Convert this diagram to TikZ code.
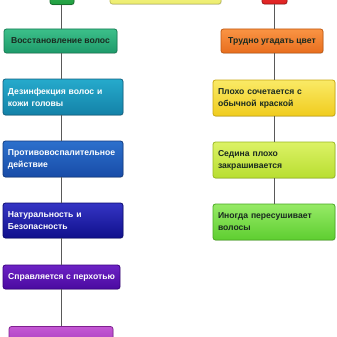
\documentclass[tikz,border=0pt]{standalone}
\usepackage{fontspec}
\setmainfont{Liberation Sans}
\usetikzlibrary{shadows}
\definecolor{cA1}{HTML}{3CC08A}\definecolor{cA2}{HTML}{1E9A6A}\definecolor{cAb}{HTML}{157A52}
\definecolor{cB1}{HTML}{26AACC}\definecolor{cB2}{HTML}{1482A8}\definecolor{cBb}{HTML}{106080}
\definecolor{cC1}{HTML}{2C70CC}\definecolor{cC2}{HTML}{184CA8}\definecolor{cCb}{HTML}{103A80}
\definecolor{cD1}{HTML}{3434C4}\definecolor{cD2}{HTML}{10108C}\definecolor{cDb}{HTML}{0A0A70}
\definecolor{cE1}{HTML}{6C22C4}\definecolor{cE2}{HTML}{4A0AA0}\definecolor{cEb}{HTML}{380080}
\definecolor{cF1}{HTML}{C458D4}\definecolor{cF2}{HTML}{A034B8}\definecolor{cFb}{HTML}{802090}
\definecolor{cG1}{HTML}{FA9444}\definecolor{cG2}{HTML}{E86E1E}\definecolor{cGb}{HTML}{C05810}
\definecolor{cH1}{HTML}{FAEA66}\definecolor{cH2}{HTML}{F0CC1E}\definecolor{cHb}{HTML}{C8A810}
\definecolor{cI1}{HTML}{DCF266}\definecolor{cI2}{HTML}{B8DE30}\definecolor{cIb}{HTML}{98B820}
\definecolor{cJ1}{HTML}{96EA66}\definecolor{cJ2}{HTML}{5ECE30}\definecolor{cJb}{HTML}{48A820}
\definecolor{topG}{HTML}{1FA040}\definecolor{topY}{HTML}{EEEE70}\definecolor{topR}{HTML}{E02020}
\definecolor{darktxt}{HTML}{1A2A20}
\begin{document}
\begin{tikzpicture}[x=1pt,y=1pt,
  box/.style={rounded corners=2.5pt, line width=0.8pt, font=\bfseries\fontsize{8.6}{12}\selectfont,
    inner xsep=5pt, inner ysep=0pt, drop shadow={opacity=0.25,shadow xshift=0.6pt,shadow yshift=-0.8pt}},
  onebox/.style={box, align=center},
  twobox/.style={box, align=left},
  conn/.style={draw=black!65, line width=0.9pt}]
\useasboundingbox (0,0) rectangle (337,-337);
\begin{scope}
\clip (0,0) rectangle (337,-337);
\coordinate (lx) at (61.5,0);
\coordinate (rx) at (274,0);
% top partial boxes
\node[box, top color=topG!80!white, bottom color=topG, draw=topG!70!black, minimum width=24pt, minimum height=24pt] (tg) at (62,7.5) {};
\node[box, top color=topY!80!white, bottom color=topY, draw=topY!80!black, minimum width=111pt, minimum height=24pt] (ty) at (165.5,8) {};
\node[box, top color=topR!80!white, bottom color=topR, draw=topR!70!black, minimum width=25pt, minimum height=24pt] (tr) at (274.5,8) {};
% left column
\node[onebox, top color=cA1, bottom color=cA2, draw=cAb, text=darktxt, minimum width=113pt, minimum height=24pt] (b1) at (60.5,-41) {Восстановление волос};
\node[twobox, top color=cB1, bottom color=cB2, draw=cBb, text=white, text width=110pt, minimum height=36pt] (b2) at (63,-97) {Дезинфекция волос и\\кожи головы};
\node[twobox, top color=cC1, bottom color=cC2, draw=cCb, text=white, text width=110pt, minimum height=36pt] (b3) at (63,-159) {Противовоспалительное\\действие};
\node[twobox, top color=cD1, bottom color=cD2, draw=cDb, text=white, text width=110pt, minimum height=35pt] (b4) at (63,-220.5) {Натуральность и\\Безопасность};
\node[onebox, top color=cE1, bottom color=cE2, draw=cEb, text=white, minimum width=117pt, minimum height=24pt] (b5) at (61.5,-277) {Справляется с перхотью};
\node[box, top color=cF1, bottom color=cF2, draw=cFb, minimum width=104pt, minimum height=24pt] (b6) at (61,-338.5) {};
% right column
\node[onebox, top color=cG1, bottom color=cG2, draw=cGb, text=darktxt, minimum width=102pt, minimum height=24pt] (r1) at (272,-41) {Трудно угадать цвет};
\node[twobox, top color=cH1, bottom color=cH2, draw=cHb, text=darktxt, text width=112pt, minimum height=36pt] (r2) at (274,-98) {Плохо сочетается с\\обычной краской};
\node[twobox, top color=cI1, bottom color=cI2, draw=cIb, text=darktxt, text width=112pt, minimum height=36pt] (r3) at (274,-160) {Седина плохо\\закрашивается};
\node[twobox, top color=cJ1, bottom color=cJ2, draw=cJb, text=darktxt, text width=112pt, minimum height=36pt] (r4) at (274,-222) {Иногда пересушивает\\волосы};
% connectors
\draw[conn] (lx |- tg.south) -- (lx |- b1.north);
\draw[conn] (lx |- b1.south) -- (lx |- b2.north);
\draw[conn] (lx |- b2.south) -- (lx |- b3.north);
\draw[conn] (lx |- b3.south) -- (lx |- b4.north);
\draw[conn] (lx |- b4.south) -- (lx |- b5.north);
\draw[conn] (lx |- b5.south) -- (lx |- b6.north);
\draw[conn] (rx |- tr.south) -- (rx |- r1.north);
\draw[conn] (rx |- r1.south) -- (rx |- r2.north);
\draw[conn] (rx |- r2.south) -- (rx |- r3.north);
\draw[conn] (rx |- r3.south) -- (rx |- r4.north);
\end{scope}
\end{tikzpicture}
\end{document}
